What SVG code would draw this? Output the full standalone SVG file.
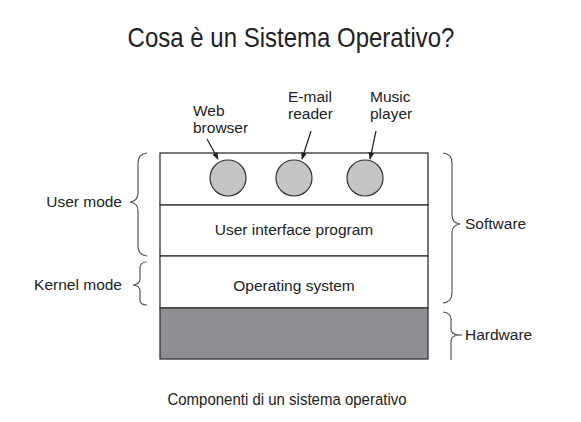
<svg xmlns="http://www.w3.org/2000/svg" width="581" height="422" viewBox="0 0 581 422">
<defs>
<style>
text{font-family:"Liberation Sans",Arial,sans-serif;fill:#222}
.lbl{font-size:15.5px}
.layer{fill:#fff;stroke:#333;stroke-width:1.3}
.brace{fill:none;stroke:#555;stroke-width:1.2}
.app{fill:#c4c5c7;stroke:#333;stroke-width:1.2}
.conn{stroke:#222;stroke-width:1.2;fill:none;marker-end:url(#ah)}
</style>
<marker id="ah" viewBox="0 0 10 10" refX="9" refY="5" markerWidth="6" markerHeight="6" orient="auto">
<path d="M0,1 L10,5 L0,9 Z" fill="#222"/>
</marker>
</defs>
<rect width="581" height="422" fill="#fff"/>
<text transform="translate(291,47) scale(1,1.15)" font-size="24" text-anchor="middle" fill="#111">Cosa è un Sistema Operativo?</text>

<g id="layer-apps"><rect class="layer" x="160" y="153" width="268" height="52"/></g>
<g id="layer-ui"><rect class="layer" x="160" y="205" width="268" height="51"/><text class="lbl" x="294" y="235" text-anchor="middle">User interface program</text></g>
<g id="layer-os"><rect class="layer" x="160" y="256" width="268" height="52"/><text class="lbl" x="294" y="291" text-anchor="middle">Operating system</text></g>
<g id="layer-hw"><rect x="160" y="308" width="268" height="51" fill="#8e8f92" stroke="#333" stroke-width="1.3"/></g>

<g id="web"><circle class="app" cx="228" cy="178" r="18"/><text class="lbl" x="193" y="116">Web</text><text class="lbl" x="193" y="133">browser</text></g>
<g id="email"><circle class="app" cx="294" cy="178" r="18"/><text class="lbl" x="288" y="102">E-mail</text><text class="lbl" x="288" y="119">reader</text></g>
<g id="music"><circle class="app" cx="365" cy="178" r="18"/><text class="lbl" x="370" y="102">Music</text><text class="lbl" x="370" y="119">player</text></g>

<g id="connectors">
<line class="conn" x1="207" y1="139" x2="218" y2="159"/>
<line class="conn" x1="311" y1="131" x2="302" y2="159"/>
<line class="conn" x1="376" y1="131" x2="370" y2="159"/>
</g>

<g id="user-mode">
<path class="brace" d="M147,153 Q138,154 138,163 L138,193 Q138,201 130,202 Q138,203 138,211 L138,246 Q138,255 147,256"/>
<text class="lbl" x="122" y="207" text-anchor="end">User mode</text>
</g>
<g id="kernel-mode">
<path class="brace" d="M147,262 Q140,262 140,268 L140,279 Q140,284 133,285 Q140,286 140,291 L140,300 Q140,305 147,305"/>
<text class="lbl" x="122" y="290" text-anchor="end">Kernel mode</text>
</g>
<g id="software">
<path class="brace" d="M443,153 Q452,154 452,163 L452,215 Q452,223 460,224 Q452,225 452,233 L452,293 Q452,302 443,303"/>
<text class="lbl" x="465" y="229">Software</text>
</g>
<g id="hardware">
<path class="brace" d="M443,312 Q451,313 451,319 L451,329 Q451,334 458,335 Q451,336 451,341 L451,360"/>
<line x1="458" y1="335" x2="462" y2="335" stroke="#555" stroke-width="1.2"/>
<text class="lbl" x="465" y="340">Hardware</text>
</g>

<text transform="translate(287,405) scale(1,1.15)" font-size="15" text-anchor="middle" fill="#111">Componenti di un sistema operativo</text>
</svg>
